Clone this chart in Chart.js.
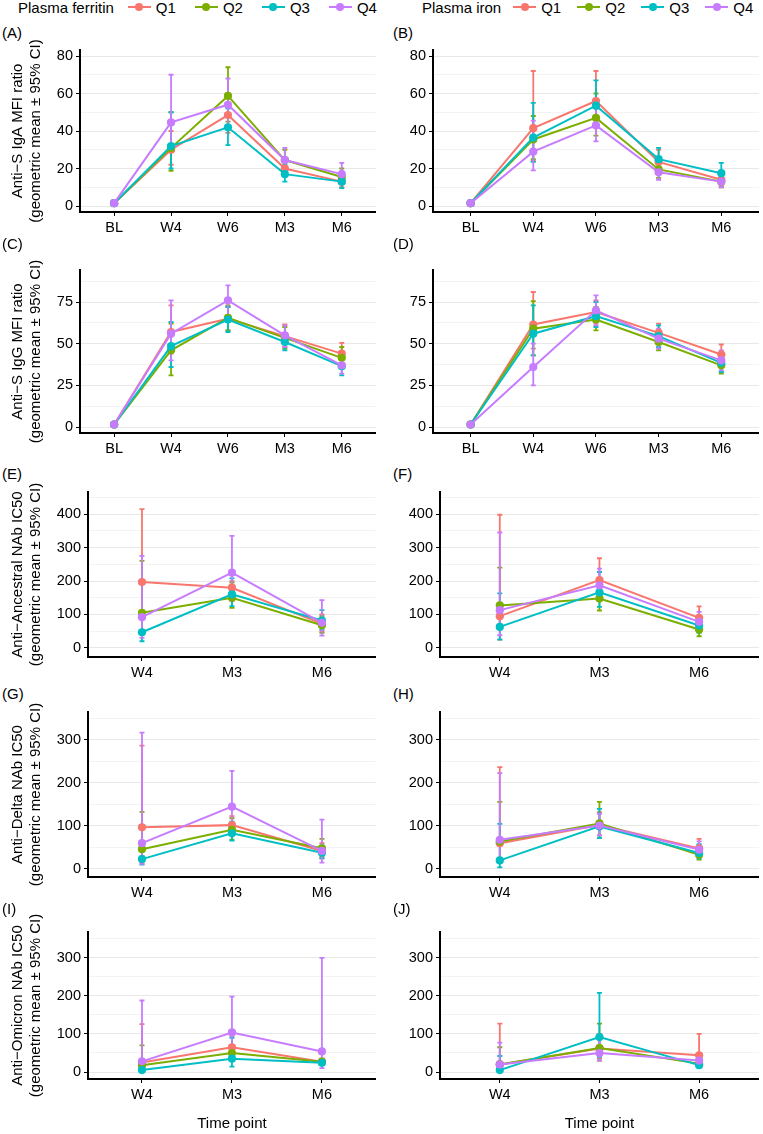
<!DOCTYPE html>
<html>
<head>
<meta charset="utf-8">
<script src="https://cdn.jsdelivr.net/npm/chart.js@4.4.1/dist/chart.umd.min.js"></script>
<style>
  body { margin: 0; background: #fff; width: 763px; height: 1134px; position: relative; overflow: hidden;
         font-family: "Liberation Sans", Arial, sans-serif; color: #000; }
  canvas { position: absolute; }
  .tag { position: absolute; font-size: 15px; line-height: 17px; }
  .legend { position: absolute; top: -1px; height: 16px; display: flex; align-items: center; font-size: 15px; white-space: nowrap; }
  .legend .ttl { margin-right: 14px; }
  .legend .key { width: 23px; height: 2px; position: relative; margin-right: 5px; }
  .legend .key::after { content: ''; position: absolute; left: 7.5px; top: -3.5px; width: 8px; height: 8px; border-radius: 50%; background: inherit; }
  .legend .lab { margin-right: 19px; }
  #legIron .ttl { margin-right: 12px; }
  #legIron .lab { margin-right: 16px; }
</style>
</head>
<body>
<div class="legend" id="legFer" style="left:18px"></div>
<div class="legend" id="legIron" style="left:422px"></div>

<script>
// x categories, groups
const timeFull = ['BL', 'W4', 'W6', 'M3', 'M6'];
const timeNab = ['W4', 'M3', 'M6'];
const quartiles = ['Q1', 'Q2', 'Q3', 'Q4'];
const colors = ['#F8766D', '#7CAE00', '#00BFC4', '#C77CFF'];

// y tick labels
const ticksIga = [0, 20, 40, 60, 80];
const ticksIgg = [0, 25, 50, 75];
const ticksAnc = [0, 100, 200, 300, 400];
const ticksVar = [0, 100, 200, 300];

// (A) anti-S IgA, ferritin quartiles  (rows = Q1..Q4)
const igaFerMean = [[1.5, 30, 48.5, 20, 13], [1.5, 31, 58.7, 24.5, 15.5], [1.5, 32, 42, 17, 13], [1.5, 44.6, 54, 24.5, 17]];
const igaFerLow  = [[1.2, 22, 39, 17, 10], [1.2, 18.8, 45, 20, 12], [1.2, 20, 32.5, 13, 9.5], [1.2, 30, 42, 19, 12]];
const igaFerHigh = [[1.9, 40, 59, 24, 16], [1.9, 50, 74, 30, 20], [1.9, 50, 52, 22, 17], [1.9, 70, 68, 31, 23]];
// (B) anti-S IgA, iron
const igaIronMean = [[1.5, 41.5, 56, 23.5, 14], [1.5, 35.5, 47, 19.5, 13], [1.5, 36.5, 53.5, 25, 17.5], [1.5, 29, 43, 18, 13]];
const igaIronLow  = [[1.2, 24, 43, 18, 11], [1.2, 25, 37.5, 15, 10], [1.2, 23.5, 42, 20, 13], [1.2, 19, 34.5, 14, 10]];
const igaIronHigh = [[1.9, 72, 72, 30, 18], [1.9, 48, 60, 26, 17], [1.9, 55, 67, 31, 23], [1.9, 45.5, 52, 23, 16]];
// (C) anti-S IgG, ferritin
const iggFerMean = [[1.5, 57, 65, 54.5, 44], [1.5, 46, 65.5, 53.5, 41.5], [1.5, 48.5, 64.5, 51, 36.5], [1.5, 56, 76, 55, 37]];
const iggFerLow  = [[1.2, 44, 58, 48, 38], [1.2, 31, 58, 47, 36], [1.2, 36, 57, 46, 31], [1.2, 40, 67, 48, 32]];
const iggFerHigh = [[1.9, 73, 72, 61.5, 50.5], [1.9, 62, 73, 60, 48], [1.9, 63, 72, 56, 42], [1.9, 76, 85, 61, 43]];
// (D) anti-S IgG, iron
const iggIronMean = [[1.5, 61.5, 69, 56.5, 43.5], [1.5, 59, 64.5, 51, 37], [1.5, 56, 66.5, 54.5, 38.5], [1.5, 36, 70, 53, 40]];
const iggIronLow  = [[1.2, 47, 62, 51, 38], [1.2, 43, 58, 46, 32], [1.2, 43, 60, 48, 33], [1.2, 25, 61, 47, 34]];
const iggIronHigh = [[1.9, 81, 76, 62, 49.5], [1.9, 75.5, 72, 56, 43], [1.9, 73, 75, 61, 45], [1.9, 50, 79, 59, 46]];
// (E) ancestral NAb, ferritin
const ancFerMean = [[197, 180, 72], [105, 150, 68], [47, 160, 82], [92, 225, 75]];
const ancFerLow  = [[95, 140, 50], [40, 120, 45], [20, 125, 55], [30, 150, 37]];
const ancFerHigh = [[415, 200, 100], [260, 195, 95], [110, 208, 113], [275, 335, 143]];
// (F) ancestral NAb, iron
const ancIronMean = [[95, 203, 90], [127, 148, 55], [63, 166, 67], [113, 187, 78]];
const ancIronLow  = [[25, 150, 65], [60, 112, 35], [25, 123, 45], [38, 140, 55]];
const ancIronHigh = [[398, 268, 124], [240, 200, 80], [163, 227, 95], [345, 237, 108]];
// (G) delta NAb, ferritin
const delFerMean = [[97, 102, 42], [46, 91, 48], [23, 83, 38], [60, 145, 42]];
const delFerLow  = [[30, 80, 25], [15, 68, 30], [10, 66, 25], [12, 90, 15]];
const delFerHigh = [[287, 123, 60], [133, 118, 70], [65, 110, 55], [317, 228, 115]];
// (H) delta NAb, iron
const delIronMean = [[60, 102, 48], [64, 106, 33], [20, 99, 37], [68, 101, 45]];
const delIronLow  = [[15, 78, 32], [25, 72, 22], [4, 72, 24], [25, 78, 30]];
const delIronHigh = [[237, 132, 70], [156, 156, 55], [105, 140, 58], [223, 128, 64]];
// (I) omicron NAb, ferritin
const omiFerMean = [[25, 65, 27], [18, 50, 27], [5, 35, 24], [28, 104, 54]];
const omiFerLow  = [[5, 45, 20], [5, 35, 20], [1, 14, 18], [5, 55, 10]];
const omiFerHigh = [[126, 95, 35], [70, 70, 35], [15, 90, 32], [188, 198, 300]];
// (J) omicron NAb, iron
const omiIronMean = [[20, 62, 44], [20, 63, 22], [5, 92, 18], [20, 50, 30]];
const omiIronLow  = [[5, 35, 20], [5, 30, 15], [1, 40, 12], [5, 30, 20]];
const omiIronHigh = [[127, 100, 100], [65, 127, 30], [42, 208, 25], [77, 85, 40]];

Chart.defaults.font.family = '"Liberation Sans", Arial, sans-serif';
Chart.defaults.color = '#000';

// legends
function buildLegend(el, title) {
  let html = '<span class="ttl">' + title + '</span>';
  quartiles.forEach((q, i) => {
    html += '<span class="key" style="background:' + colors[i] + '"></span><span class="lab">' + q + '</span>';
  });
  el.innerHTML = html;
}
buildLegend(document.getElementById('legFer'), 'Plasma ferritin');
buildLegend(document.getElementById('legIron'), 'Plasma iron');

const errorBars = {
  id: 'errorBars',
  beforeDatasetsDraw(chart) {
    const {ctx, scales: {x, y}} = chart;
    ctx.save();
    ctx.lineWidth = 1.8;
    chart.data.datasets.forEach(ds => {
      ctx.strokeStyle = ds.borderColor;
      ds.low.forEach((lo, j) => {
        const px = x.getPixelForValue(j);
        const y1 = y.getPixelForValue(lo);
        const y2 = y.getPixelForValue(ds.high[j]);
        ctx.beginPath();
        ctx.moveTo(px, y1); ctx.lineTo(px, y2);
        ctx.moveTo(px - 2.5, y1); ctx.lineTo(px + 2.5, y1);
        ctx.moveTo(px - 2.5, y2); ctx.lineTo(px + 2.5, y2);
        ctx.stroke();
      });
    });
    ctx.restore();
  }
};

const panels = [
  {tag: 'A', right: false, plotL: 80, plotR: 377, top: 50, bottom: 212, tagY: 24, times: timeFull, mean: igaFerMean, low: igaFerLow, high: igaFerHigh, ymin: -3.2, ymax: 83.2, ticks: ticksIga, title: ['Anti\u2212S IgA MFI ratio', '(geometric mean \u00b1 95% CI)']},
  {tag: 'B', right: true, plotL: 433, plotR: 760, top: 50, bottom: 212, tagY: 24, times: timeFull, mean: igaIronMean, low: igaIronLow, high: igaIronHigh, ymin: -3.2, ymax: 83.2, ticks: ticksIga},
  {tag: 'C', right: false, plotL: 80, plotR: 377, top: 270, bottom: 433, tagY: 235, times: timeFull, mean: iggFerMean, low: iggFerLow, high: iggFerHigh, ymin: -3.6, ymax: 94.2, ticks: ticksIgg, title: ['Anti\u2212S IgG MFI ratio', '(geometric mean \u00b1 95% CI)']},
  {tag: 'D', right: true, plotL: 433, plotR: 760, top: 270, bottom: 433, tagY: 235, times: timeFull, mean: iggIronMean, low: iggIronLow, high: iggIronHigh, ymin: -3.6, ymax: 94.2, ticks: ticksIgg},
  {tag: 'E', right: false, plotL: 88, plotR: 376, top: 492, bottom: 657, tagY: 465, times: timeNab, mean: ancFerMean, low: ancFerLow, high: ancFerHigh, ymin: -27, ymax: 466, ticks: ticksAnc, title: ['Anti\u2212Ancestral NAb IC50', '(geometric mean \u00b1 95% CI)']},
  {tag: 'F', right: true, plotL: 440, plotR: 760, top: 492, bottom: 657, tagY: 465, times: timeNab, mean: ancIronMean, low: ancIronLow, high: ancIronHigh, ymin: -27, ymax: 466, ticks: ticksAnc},
  {tag: 'G', right: false, plotL: 88, plotR: 376, top: 712, bottom: 877, tagY: 685, times: timeNab, mean: delFerMean, low: delFerLow, high: delFerHigh, ymin: -18.6, ymax: 365, ticks: ticksVar, title: ['Anti\u2212Delta NAb IC50', '(geometric mean \u00b1 95% CI)']},
  {tag: 'H', right: true, plotL: 440, plotR: 760, top: 712, bottom: 877, tagY: 685, times: timeNab, mean: delIronMean, low: delIronLow, high: delIronHigh, ymin: -18.6, ymax: 365, ticks: ticksVar},
  {tag: 'I', right: false, plotL: 88, plotR: 376, top: 932, bottom: 1079, tagY: 900, times: timeNab, mean: omiFerMean, low: omiFerLow, high: omiFerHigh, ymin: -18.4, ymax: 368, ticks: ticksVar, title: ['Anti\u2212Omicron NAb IC50', '(geometric mean \u00b1 95% CI)'], last: true},
  {tag: 'J', right: true, plotL: 440, plotR: 760, top: 932, bottom: 1079, tagY: 900, times: timeNab, mean: omiIronMean, low: omiIronLow, high: omiIronHigh, ymin: -18.4, ymax: 368, ticks: ticksVar, last: true}
];

panels.forEach(p => {
  const colLeft = p.right ? 380 : 0;
  const colWidth = p.right ? 383 : 380;
  const padTop = 30;
  const xH = p.last ? 55 : 24;

  const tag = document.createElement('div');
  tag.className = 'tag';
  tag.textContent = '(' + p.tag + ')';
  tag.style.left = (p.right ? 393 : 2) + 'px';
  tag.style.top = p.tagY + 'px';
  document.body.appendChild(tag);

  const cv = document.createElement('canvas');
  cv.width = colWidth;
  cv.height = padTop + (p.bottom - p.top) + xH;
  cv.style.left = colLeft + 'px';
  cv.style.top = (p.top - padTop) + 'px';
  document.body.appendChild(cv);

  const step = p.ticks[1] - p.ticks[0];
  const minor = p.ticks.map(v => v + step / 2).filter(v => v < p.ymax);
  const allTicks = p.ticks.concat(minor).sort((a, b) => a - b);
  const isMajor = v => p.ticks.includes(v);

  new Chart(cv, {
    type: 'line',
    data: {
      datasets: quartiles.map((q, i) => ({
        label: q,
        data: p.mean[i].map((v, j) => ({x: j, y: v})),
        low: p.low[i],
        high: p.high[i],
        borderColor: colors[i],
        backgroundColor: colors[i],
        borderWidth: 2,
        pointRadius: 4.1,
        pointBorderWidth: 0,
        pointBackgroundColor: colors[i],
        tension: 0,
        order: 3 - i
      }))
    },
    options: {
      responsive: false,
      animation: false,
      events: [],
      layout: {padding: {top: padTop, left: 0, right: colLeft + colWidth - p.plotR, bottom: 0}},
      plugins: {legend: {display: false}, tooltip: {enabled: false}},
      scales: {
        x: {
          type: 'linear',
          min: -0.6,
          max: p.times.length - 0.4,
          afterBuildTicks: s => { s.ticks = p.times.map((t, j) => ({value: j})); },
          afterFit: s => { s.height = xH; },
          ticks: {autoSkip: false, maxRotation: 0, padding: 3, font: {size: 14.5}, color: '#000',
                  callback: v => p.times[v]},
          grid: {drawOnChartArea: false, drawTicks: true, tickLength: 4, tickColor: '#000', tickWidth: 1},
          border: {display: true, color: '#000', width: 2},
          title: p.last ? {display: true, text: 'Time point', font: {size: 15}, color: '#000', padding: {top: 0, bottom: 1}} : {display: false}
        },
        y: {
          type: 'linear',
          min: p.ymin,
          max: p.ymax,
          afterBuildTicks: s => { s.ticks = allTicks.map(v => ({value: v})); },
          afterFit: s => { s.width = p.plotL - colLeft; },
          ticks: {autoSkip: false, padding: 3, font: {size: 14.5}, color: '#000',
                  callback: v => isMajor(v) ? v : ''},
          grid: {
            color: ctx => isMajor(ctx.tick.value) ? '#e8e8e8' : '#f3f3f3',
            lineWidth: 1,
            drawTicks: true,
            tickLength: 4,
            tickColor: ctx => isMajor(ctx.tick.value) ? '#000' : 'rgba(0,0,0,0)',
            tickWidth: 1
          },
          border: {display: true, color: '#000', width: 2},
          title: p.title ? {display: true, text: p.title, font: {size: 15, lineHeight: 1.15}, color: '#000', padding: {top: 9.5, bottom: 0}} : {display: false}
        }
      }
    },
    plugins: [errorBars]
  });
});
</script>
</body>
</html>
